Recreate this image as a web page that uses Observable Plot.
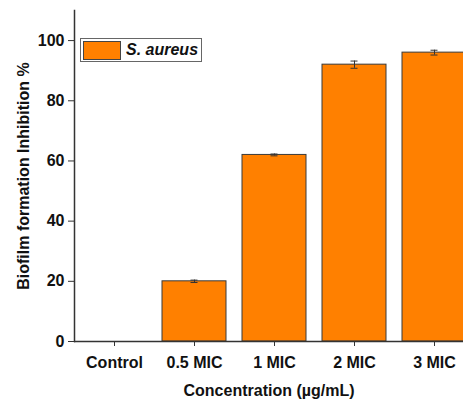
<!DOCTYPE html>
<html><head><meta charset="utf-8">
<script src="https://cdn.jsdelivr.net/npm/d3@7"></script>
<script src="https://cdn.jsdelivr.net/npm/@observablehq/plot@0.6"></script>
<style>
html,body{margin:0;padding:0;background:#fff;overflow:hidden;}
#wrap{position:relative;width:463px;height:399px;font-family:"Liberation Sans",Arial,sans-serif;}
#legend{position:absolute;left:80px;top:38px;width:122px;height:24px;border:1px solid #666;background:#fff;box-sizing:border-box;}
#legend .sw{position:absolute;left:2px;top:2px;width:38px;height:19px;background:#FF8000;border:1px solid #444;box-sizing:border-box;}
#legend .lb{position:absolute;left:45px;top:2px;font-size:16px;line-height:18px;font-weight:bold;font-style:italic;color:#111;}
</style></head>
<body><div id="wrap"><div id="legend"><div class="sw"></div><div class="lb">S. aureus</div></div></div>
<script>
const categories = ["Control","0.5 MIC","1 MIC","2 MIC","3 MIC"];
const values = [0, 20, 62, 92, 96];
const errors = [0, 0.4, 0.3, 1.2, 0.8];
const yTicks = [0,20,40,60,80,100];
const seriesName = "S. aureus";

const data = categories.map((c,i)=>({cat:c, v:values[i], e:errors[i]}));
const errData = data.filter(d=>d.e>0);

const chart = Plot.plot({
  width: 463, height: 399,
  marginLeft: 74, marginRight: 0, marginTop: 10, marginBottom: 58,
  style: {fontFamily: '"Liberation Sans", Arial, sans-serif', fontWeight: "bold", fontSize: "16px", color: "#111", overflow: "hidden"},
  x: {domain: categories, range: [74, 474], paddingInner: 0.2, paddingOuter: 0.1},
  y: {domain: [0, 110]},
  marks: [
    Plot.barY(data, {x: "cat", y: "v", fill: "#FF8000", stroke: "#3a3a3a", strokeWidth: 1}),
    Plot.ruleX(errData, {x: "cat", y1: d=>d.v-d.e, y2: d=>d.v+d.e, stroke: "#333", strokeWidth: 1}),
    Plot.tickY(errData, {x: "cat", y: d=>d.v+d.e, stroke: "#333", strokeWidth: 1, insetLeft: 28.5, insetRight: 28.5}),
    Plot.tickY(errData, {x: "cat", y: d=>d.v-d.e, stroke: "#333", strokeWidth: 1, insetLeft: 28.5, insetRight: 28.5}),
    Plot.axisY({ticks: yTicks, tickSize: 6, tickPadding: 4, stroke: "#333", fontSize: 16, label: "Biofilm formation Inhibition %", labelAnchor: "center", labelArrow: "none", labelOffset: 57, fontWeight: "bold"}),
    Plot.axisX({tickSize: 5, tickPadding: 10, stroke: "#333", fontSize: 16, label: "Concentration (µg/mL)", labelAnchor: "center", labelArrow: "none", labelOffset: 54, fontWeight: "bold"}),
    Plot.ruleY([0], {stroke: "#333", strokeWidth: 1.5}),
    Plot.frame({anchor: "left", stroke: "#333", strokeWidth: 1.5})
  ]
});
document.getElementById("wrap").prepend(chart);
</script></body></html>
